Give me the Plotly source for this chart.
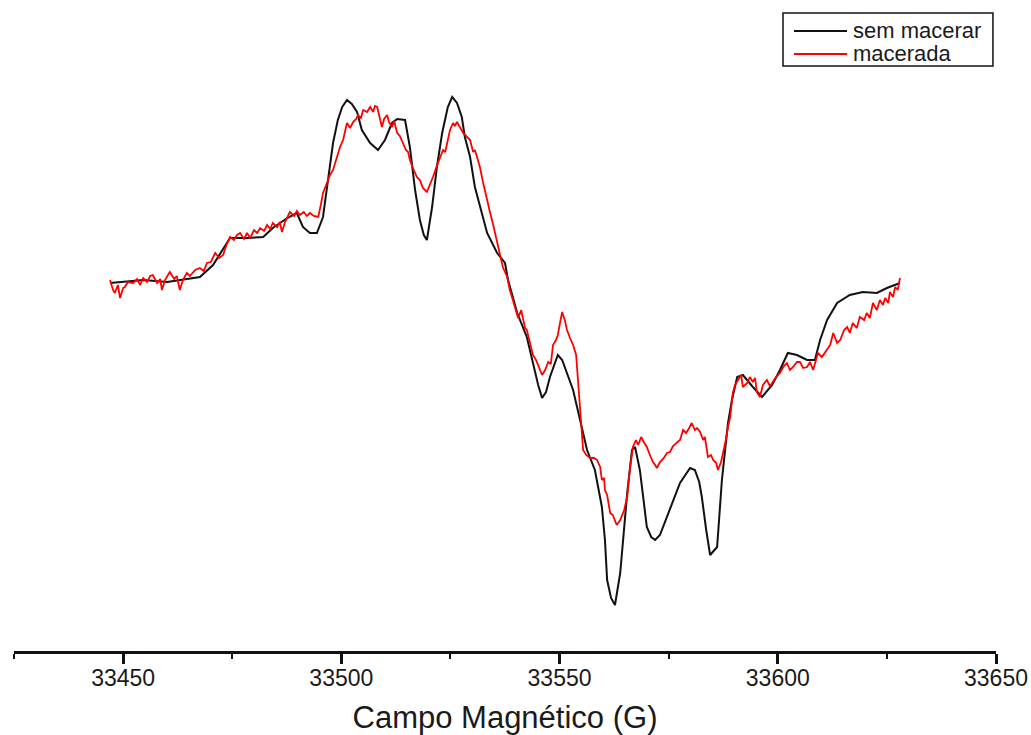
import plotly.graph_objects as go

# Campo magnético (G) e intensidade do sinal EPR (u.a.) - amostra sem macerar
campo_sem = [33447.0, 33450.0, 33454.6, 33460.1, 33464.6, 33467.6, 33470.6, 33472.7, 33474.5, 33478.4,
             33482.1, 33484.3, 33487.6, 33489.8, 33491.2, 33492.8, 33494.4, 33495.8, 33496.9, 33498.1,
             33499.2, 33500.2, 33501.3, 33502.4, 33503.6, 33504.7, 33506.6, 33508.4, 33510.0, 33511.6,
             33512.8, 33514.6, 33515.7, 33516.9, 33518.0, 33518.9, 33519.6, 33520.8, 33521.9, 33523.1,
             33524.4, 33525.4, 33526.5, 33527.6, 33528.3, 33529.5, 33530.6, 33532.2, 33533.4, 33535.7,
             33537.5, 33538.2, 33540.3, 33542.5, 33543.9, 33545.1, 33546.0, 33546.9, 33547.8, 33549.6,
             33550.6, 33551.7, 33553.1, 33554.7, 33556.3, 33558.1, 33559.7, 33560.4, 33560.9, 33561.8,
             33562.7, 33563.9, 33564.8, 33565.5, 33566.6, 33567.3, 33568.4, 33569.3, 33570.0, 33571.0,
             33571.9, 33573.0, 33573.7, 33575.8, 33577.6, 33579.9, 33581.0, 33582.0, 33582.6, 33583.6,
             33584.5, 33586.1, 33587.2, 33588.6, 33589.5, 33590.7, 33592.0, 33594.3, 33596.4, 33598.7,
             33600.5, 33602.3, 33604.4, 33606.7, 33608.5, 33609.7, 33611.3, 33613.6, 33616.5, 33619.5,
             33622.7, 33625.0, 33628.0]
sinal_sem = [77, 78, 80, 78, 81, 83, 95, 110, 122, 122,
             123, 132, 142, 147, 133, 127, 127, 143, 180, 217,
             240, 253, 260, 256, 248, 230, 217, 210, 220, 237,
             241, 240, 213, 170, 140, 125, 120, 153, 193, 227,
             253, 263, 257, 243, 223, 203, 173, 147, 127, 107,
             97, 80, 47, 23, -3, -25, -38, -32, -17, 5,
             0, -13, -30, -60, -90, -110, -147, -180, -220, -238,
             -245, -213, -170, -133, -90, -87, -110, -140, -167, -177,
             -180, -175, -167, -143, -123, -108, -110, -122, -137, -170,
             -195, -187, -120, -63, -40, -17, -15, -27, -37, -25,
             -10, 7, 5, 0, 0, 20, 40, 57, 65, 68,
             67, 72, 77]

# Amostra macerada
campo_mac = [33447.0, 33447.7, 33448.1, 33448.8, 33449.3, 33450.0, 33450.4, 33451.1, 33452.3, 33453.2,
             33453.9, 33454.6, 33455.5, 33456.2, 33456.8, 33457.8, 33458.5, 33458.9, 33459.6, 33460.7,
             33461.7, 33462.3, 33463.0, 33463.7, 33464.6, 33465.3, 33466.5, 33467.6, 33468.5, 33469.2,
             33470.1, 33471.1, 33472.0, 33472.9, 33473.6, 33474.5, 33475.4, 33476.1, 33476.8, 33477.7,
             33478.4, 33479.1, 33480.0, 33480.7, 33481.4, 33482.3, 33483.0, 33483.7, 33484.3, 33485.3,
             33485.9, 33486.4, 33487.1, 33487.8, 33488.2, 33489.2, 33489.8, 33490.5, 33491.4, 33492.1,
             33492.8, 33493.7, 33494.7, 33495.3, 33495.8, 33496.7, 33497.4, 33498.1, 33498.8, 33499.7,
             33500.4, 33500.8, 33501.3, 33502.0, 33502.7, 33503.4, 33503.8, 33504.5, 33505.0, 33505.9,
             33506.6, 33507.3, 33507.7, 33508.2, 33508.9, 33509.3, 33509.8, 33510.5, 33510.9, 33511.6,
             33512.1, 33512.8, 33513.4, 33514.1, 33514.8, 33515.3, 33515.7, 33516.4, 33517.3, 33518.0,
             33518.7, 33519.6, 33520.3, 33521.0, 33521.7, 33522.6, 33523.3, 33523.8, 33524.2, 33524.9,
             33525.6, 33526.0, 33526.5, 33527.2, 33527.9, 33528.6, 33529.5, 33530.2, 33530.6, 33531.1,
             33531.8, 33532.5, 33533.1, 33534.1, 33534.8, 33535.7, 33536.4, 33537.0, 33538.0, 33538.6,
             33539.3, 33540.0, 33540.5, 33541.2, 33541.6, 33542.1, 33542.5, 33543.2, 33543.9, 33544.6,
             33545.3, 33546.0, 33546.7, 33547.4, 33548.0, 33548.5, 33549.2, 33549.6, 33550.1, 33550.6,
             33551.2, 33551.7, 33552.4, 33553.1, 33553.8, 33554.2, 33554.7, 33555.4, 33556.1, 33557.0,
             33557.9, 33558.6, 33559.3, 33559.7, 33560.2, 33560.4, 33560.9, 33561.6, 33562.2, 33563.1,
             33563.9, 33564.8, 33565.5, 33566.1, 33566.8, 33567.5, 33568.0, 33568.7, 33569.3, 33570.0,
             33570.7, 33571.4, 33571.9, 33572.3, 33573.0, 33573.9, 33574.6, 33575.3, 33576.0, 33576.9,
             33577.6, 33578.3, 33579.0, 33579.7, 33580.3, 33581.0, 33581.5, 33582.2, 33582.9, 33583.3,
             33584.0, 33584.7, 33585.2, 33585.9, 33586.3, 33587.0, 33587.5, 33588.1, 33588.6, 33589.1,
             33589.7, 33590.2, 33590.9, 33591.6, 33592.0, 33593.0, 33593.6, 33594.3, 33594.8, 33595.2,
             33595.9, 33596.6, 33597.5, 33598.2, 33598.7, 33599.6, 33600.5, 33601.4, 33602.1, 33602.8,
             33603.5, 33604.4, 33605.1, 33605.8, 33606.7, 33607.4, 33608.1, 33608.8, 33609.2, 33610.1,
             33611.3, 33612.0, 33612.7, 33613.6, 33614.3, 33615.2, 33615.9, 33616.5, 33617.2, 33618.1,
             33618.8, 33619.8, 33620.4, 33621.1, 33621.8, 33622.7, 33623.4, 33624.1, 33624.6, 33625.3,
             33625.7, 33626.4, 33626.9, 33627.5, 33628.0]
sinal_mac = [80, 70, 67, 75, 62, 72, 73, 78, 77, 81,
             75, 82, 78, 84, 85, 77, 81, 70, 80, 88,
             81, 84, 70, 80, 87, 84, 90, 92, 89, 97,
             98, 107, 102, 105, 114, 123, 120, 125, 127, 121,
             127, 122, 130, 127, 132, 129, 135, 131, 137, 133,
             138, 128, 138, 145, 148, 144, 149, 145, 148, 144,
             147, 144, 143, 155, 167, 177, 185, 190, 200, 213,
             220, 227, 237, 232, 238, 241, 245, 242, 250, 248,
             253, 248, 254, 253, 242, 233, 241, 245, 238, 233,
             239, 227, 224, 217, 210, 208, 200, 192, 183, 180,
             172, 168, 175, 183, 192, 203, 210, 208, 217, 230,
             237, 234, 238, 233, 227, 224, 220, 208, 210, 203,
             192, 177, 165, 147, 135, 117, 105, 93, 83, 70,
             60, 48, 42, 50, 42, 32, 30, 18, 5, 0,
             -8, -15, -10, -2, -4, 15, 20, 25, 37, 48,
             40, 30, 22, 15, 5, -20, -50, -90, -95, -98,
             -98, -100, -107, -120, -118, -130, -135, -153, -155, -165,
             -160, -150, -137, -110, -87, -80, -85, -77, -82, -87,
             -95, -102, -105, -108, -102, -98, -93, -92, -86, -83,
             -80, -70, -73, -68, -63, -70, -68, -72, -80, -77,
             -97, -95, -100, -103, -110, -102, -93, -80, -67, -57,
             -33, -25, -20, -15, -27, -23, -17, -22, -18, -32,
             -37, -25, -20, -26, -23, -17, -13, -6, -3, -10,
             -7, -2, -2, -8, -7, -2, -10, 0, 7, 3,
             10, 15, 27, 17, 20, 30, 33, 27, 37, 32,
             43, 40, 47, 42, 57, 50, 60, 55, 62, 57,
             68, 63, 73, 70, 82]

serie_nomes = ["sem macerar", "macerada"]
serie_cores = ["#111111", "#ff0000"]

x_ticks = [33450, 33500, 33550, 33600, 33650]

FONTE = "Liberation Sans, Arial, sans-serif"
TEXTO = "#1a1a1a"

fig = go.Figure()
fig.add_trace(go.Scatter(x=campo_sem, y=sinal_sem, mode="lines", name=serie_nomes[0],
                         line=dict(color=serie_cores[0], width=2), showlegend=False))
fig.add_trace(go.Scatter(x=campo_mac, y=sinal_mac, mode="lines", name=serie_nomes[1],
                         line=dict(color=serie_cores[1], width=1.8), showlegend=False))

# Legenda em caixa no canto superior direito (coordenadas do papel)
leg_x0, leg_x1, leg_y0, leg_y1 = 0.7831, 0.9969, 0.8986, 0.980
amostra_x0, amostra_x1, texto_x = 0.7943, 0.8483, 0.8524
linhas_y = [0.9524, 0.9171]
fig.add_shape(type="rect", xref="paper", yref="paper",
              x0=leg_x0, x1=leg_x1, y0=leg_y0, y1=leg_y1,
              line=dict(color="#111111", width=1.5), fillcolor="white", layer="above")
for nome, cor, ly in zip(serie_nomes, serie_cores, linhas_y):
    fig.add_shape(type="line", xref="paper", yref="paper",
                  x0=amostra_x0, x1=amostra_x1, y0=ly, y1=ly,
                  line=dict(color=cor, width=2), layer="above")
    fig.add_annotation(xref="paper", yref="paper", x=texto_x, y=ly,
                       xanchor="left", yanchor="middle", showarrow=False,
                       text=nome, font=dict(family=FONTE, size=22, color=TEXTO))

fig.update_layout(
    width=1031, height=735,
    margin=dict(l=14, r=35, t=0, b=84),
    paper_bgcolor="white", plot_bgcolor="white",
    font=dict(family=FONTE, color=TEXTO),
    showlegend=False,
    xaxis=dict(
        range=[33425, 33650], tickvals=x_ticks, ticktext=[str(v) for v in x_ticks],
        showgrid=False, zeroline=False,
        showline=True, linecolor="#111111", linewidth=2.5,
        ticks="outside", ticklen=10, tickwidth=3, tickcolor="#111111",
        tickfont=dict(size=23, color=TEXTO), ticklabelstandoff=-5,
        minor=dict(dtick=25, tick0=33425, ticks="outside", ticklen=5, tickwidth=2,
                   tickcolor="#111111", showgrid=False),
        title=dict(text="Campo Magnético (G)", font=dict(size=31, color=TEXTO), standoff=19),
    ),
    yaxis=dict(range=[-291, 360], visible=False),
)

fig.write_html("out.html")
